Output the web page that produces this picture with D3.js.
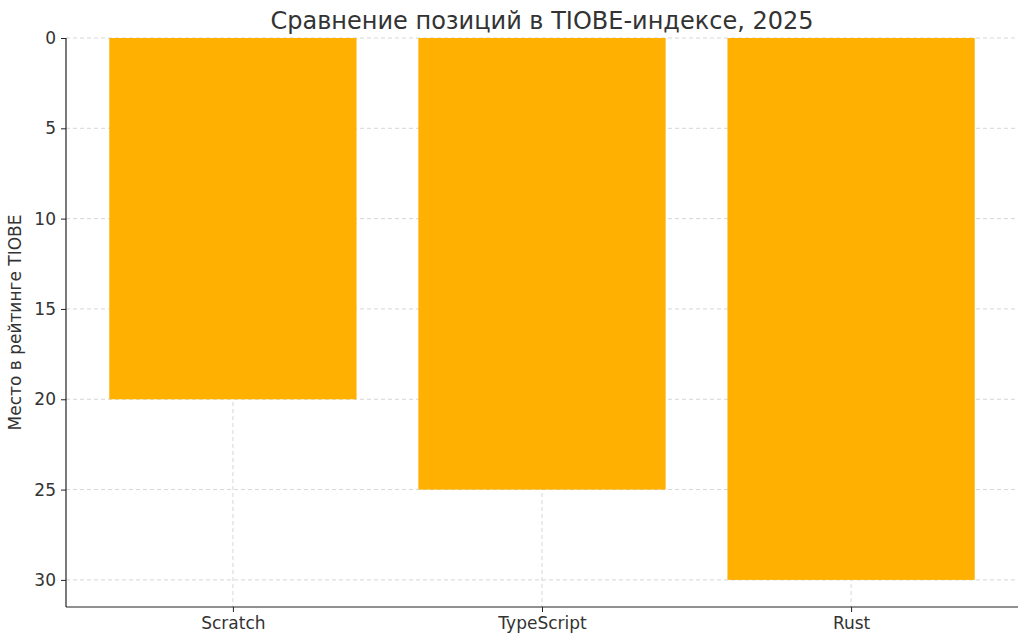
<!DOCTYPE html>
<html><head><meta charset="utf-8">
<script src="https://cdn.jsdelivr.net/npm/d3@7"></script>
<style>body{margin:0;background:#fff}text{font-family:"DejaVu Sans",sans-serif}</style>
</head><body><svg id="c" width="1024" height="640"></svg>
<script>
const categories = ["Scratch", "TypeScript", "Rust"];
const ranks = [20, 25, 30];
const yTicks = [0, 5, 10, 15, 20, 25, 30];

const svg = d3.select("#c");
const L = 66, R = 1018, T = 38, B = 607;
const x = d3.scaleLinear().domain([-0.54, 2.54]).range([L, R]);
const y = d3.scaleLinear().domain([0, 31.5]).range([T, B]);
const bw = x(0.8) - x(0);

// grid
svg.append("g").selectAll("line").data(yTicks).join("line")
  .attr("x1", L).attr("x2", R).attr("y1", d => y(d)).attr("y2", d => y(d))
  .attr("stroke", "#cccccc").attr("stroke-dasharray", "4,3").attr("stroke-width", 0.8);
svg.append("g").selectAll("line").data(categories).join("line")
  .attr("y1", T).attr("y2", B).attr("x1", (d, i) => x(i)).attr("x2", (d, i) => x(i))
  .attr("stroke", "#cccccc").attr("stroke-dasharray", "4,3").attr("stroke-width", 0.8);

// bars
svg.append("g").selectAll("rect").data(ranks).join("rect")
  .attr("x", (d, i) => x(i) - bw / 2).attr("width", bw)
  .attr("y", y(0)).attr("height", d => y(d) - y(0))
  .attr("fill", "#FFB000");

// axes
const ya = svg.append("g").attr("transform", `translate(${L},0)`)
  .call(d3.axisLeft(y).tickValues(yTicks).tickSize(5).tickPadding(5));
const xa = svg.append("g").attr("transform", `translate(0,${B})`)
  .call(d3.axisBottom(x).tickValues([0, 1, 2]).tickFormat(i => categories[i]).tickSize(5).tickPadding(5));
[ya, xa].forEach(a => {
  a.selectAll("text").attr("font-size", 17).attr("fill", "#333");
  a.selectAll("line").attr("stroke", "#222");
  a.select(".domain").attr("stroke", "#222").attr("stroke-width", 1.2);
});
ya.select(".domain").attr("d", `M0,${T}V${B}`);
xa.select(".domain").attr("d", `M${L},0H${R}`);

svg.append("text").attr("x", 542).attr("y", 29).attr("text-anchor", "middle")
  .attr("font-size", 24).attr("fill", "#333").text("Сравнение позиций в TIOBE-индексе, 2025");
svg.append("text").attr("transform", `translate(21,${(T + B) / 2}) rotate(-90)`)
  .attr("text-anchor", "middle").attr("font-size", 17).attr("fill", "#333").text("Место в рейтинге TIOBE");
</script></body></html>
